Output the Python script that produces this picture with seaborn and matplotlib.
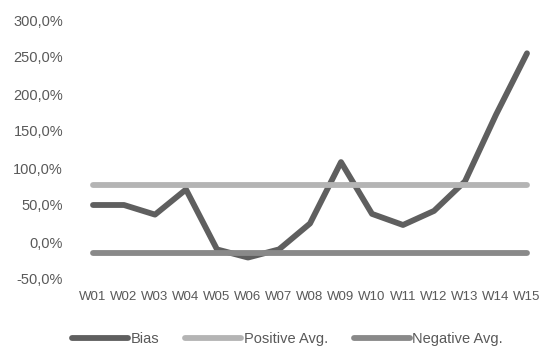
import matplotlib
matplotlib.use("Agg")
import matplotlib.pyplot as plt
import seaborn as sns
import pandas as pd
from matplotlib.ticker import FuncFormatter
from matplotlib.lines import Line2D

weeks = [f"W{i:02d}" for i in range(1, 16)]
bias = [50, 50, 37, 71, -10, -21, -10, 25, 108, 38, 23, 42, 82, 172, 255]
positive_avg = 76.5
negative_avg = -15.5

sns.set_theme(style="white")
plt.rcParams["font.family"] = ["Liberation Sans", "DejaVu Sans"]

df = pd.DataFrame({
    "week": weeks * 3,
    "value": bias + [positive_avg] * len(weeks) + [negative_avg] * len(weeks),
    "series": ["Bias"] * len(weeks) + ["Positive Avg."] * len(weeks) + ["Negative Avg."] * len(weeks),
})

palette = {"Bias": "#5f5f5f", "Positive Avg.": "#b4b4b4", "Negative Avg.": "#898989"}

fig = plt.figure(figsize=(5.44, 3.49), dpi=100)
ax = fig.add_axes([77.5 / 544, 1 - 279 / 349, (542.5 - 77.5) / 544, (279 - 20) / 349])

sns.lineplot(data=df, x="week", y="value", hue="series", palette=palette,
             linewidth=4.2, ax=ax, sort=False, legend=False)
for ln in ax.get_lines():
    ln.set_solid_capstyle("round")
    ln.set_solid_joinstyle("round")

ax.set_xlim(-0.5, len(weeks) - 0.5)
ax.set_ylim(-50, 300)
ax.set_yticks(range(-50, 301, 50))
ax.yaxis.set_major_formatter(FuncFormatter(lambda v, p: f"{v:.1f}%".replace(".", ",")))
ax.set_xlabel("")
ax.set_ylabel("")
for s in ax.spines.values():
    s.set_visible(False)
ax.tick_params(axis="both", length=0, colors="#595959")
ax.tick_params(axis="y", pad=10.4, labelsize=10.5)
ax.tick_params(axis="x", pad=8.5, labelsize=9.5)

handles = [Line2D([], [], color=palette[k], linewidth=4.2, solid_capstyle="round") for k in palette]
fig.legend(handles, list(palette.keys()), loc="center", bbox_to_anchor=(287.5 / 544, 1 - 339 / 349),
           ncol=3, frameon=False, handlelength=3.85, handletextpad=0.15, columnspacing=1.8,
           prop={"size": 10.5}, labelcolor="#595959")

fig.savefig("out.png", dpi=100)
